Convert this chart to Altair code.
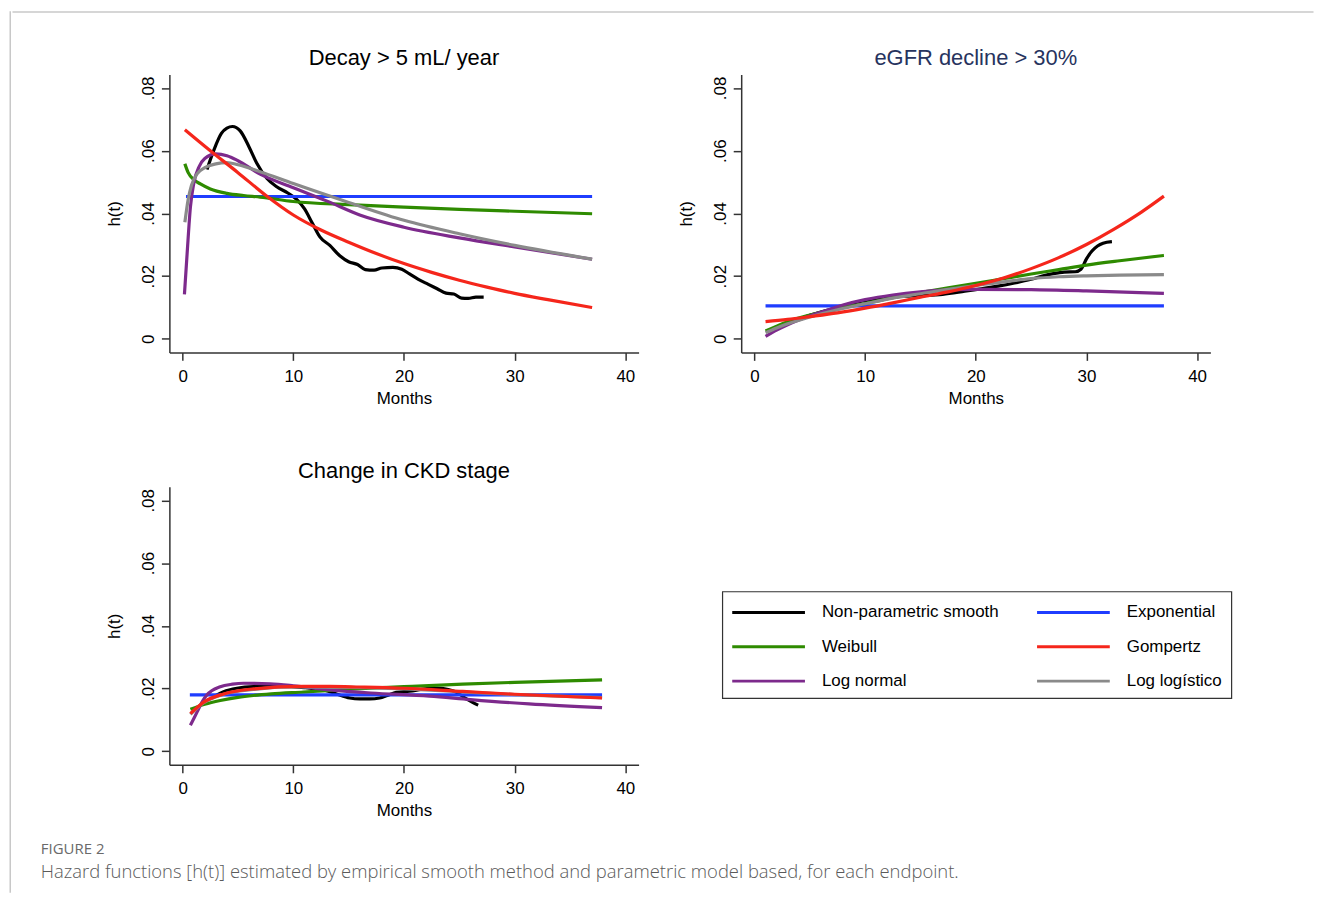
import altair as alt
import pandas as pd

# ---------------- data ----------------
SERIES = ["Non-parametric smooth", "Exponential", "Weibull", "Gompertz", "Log normal", "Log logístico"]
COLORS = ["#000000", "#1f3dff", "#2e8b00", "#f5261b", "#7d2a8c", "#8a8a8a"]
DRAW_ORDER = ["Non-parametric smooth", "Exponential", "Weibull", "Log normal", "Log logístico", "Gompertz"]

PANEL_TITLES = ["Decay > 5 mL/ year", "eGFR decline > 30%", "Change in CKD stage"]
X_TICKS = [0, 10, 20, 30, 40]
Y_TICKS = [0, 0.02, 0.04, 0.06, 0.08]

# Panel 1: Decay > 5 mL/ year
p1_np_t = [2.2, 2.8, 3.5, 4.0, 4.5, 5.2, 6.0, 6.7, 7.6, 8.5, 9.5, 10.3, 11.0, 11.7, 12.4, 13.3, 14.2, 15.0, 15.8, 16.5,
           17.3, 18.0, 19.0, 19.8, 20.5, 21.3, 22.2, 23.0, 23.8, 24.5, 25.2, 25.8, 26.5, 27.2]
p1_np_h = [0.0540, 0.0600, 0.0655, 0.0672, 0.0677, 0.0663, 0.0612, 0.0560, 0.0512, 0.0485, 0.0465, 0.0445, 0.0415,
           0.0370, 0.0325, 0.0298, 0.0265, 0.0246, 0.0237, 0.0221, 0.0219, 0.0226, 0.0228, 0.0222, 0.0207, 0.0190,
           0.0174, 0.0160, 0.0146, 0.0143, 0.0130, 0.0129, 0.0133, 0.0133]
p1_exp_t = [0.3, 37.0]
p1_exp_h = [0.0454, 0.0454]
p1_wei_t = [0.2, 0.5, 1.0, 1.6, 2.5, 4.0, 5.5, 7.0, 10, 15, 20, 25, 30, 37]
p1_wei_h = [0.0558, 0.0530, 0.0508, 0.0494, 0.0478, 0.0464, 0.0457, 0.0452, 0.0438, 0.0428, 0.0420, 0.0413, 0.0407, 0.0399]
p1_gom_t = [0.2, 2.5, 5, 7.5, 10, 12.5, 15, 17.5, 20, 22.5, 25, 27.5, 30, 33, 37]
p1_gom_h = [0.0667, 0.0600, 0.0530, 0.0458, 0.0395, 0.0347, 0.0308, 0.0272, 0.0240, 0.0212, 0.0187, 0.0165, 0.0145,
            0.0125, 0.0100]
p1_ln_t = [0.16, 0.4, 0.7, 1.0, 1.5, 2, 3, 4, 5, 7, 10, 13, 16, 20, 25, 30, 37]
p1_ln_h = [0.0142, 0.0270, 0.0420, 0.0495, 0.0550, 0.0575, 0.0590, 0.0584, 0.0568, 0.0525, 0.0482, 0.0440, 0.0395,
           0.0356, 0.0322, 0.0293, 0.0254]
p1_ll_t = [0.2, 0.5, 0.8, 1.3, 2, 3, 4, 5, 7, 10, 15, 20, 25, 30, 37]
p1_ll_h = [0.0372, 0.0445, 0.0490, 0.0526, 0.0546, 0.0558, 0.0562, 0.0555, 0.0533, 0.0495, 0.0435, 0.0378, 0.0335,
           0.0298, 0.0254]

# Panel 2: eGFR decline > 30%
p2_np_t = [3, 5, 7.5, 9, 11, 13, 15, 17, 19, 20.5, 22, 23.5, 25, 26, 27, 28, 29, 29.5, 30, 30.5, 31, 31.5, 32.3]
p2_np_h = [0.0050, 0.0075, 0.0100, 0.0115, 0.0127, 0.0135, 0.0138, 0.0142, 0.0152, 0.0160, 0.0168, 0.0178, 0.0190,
           0.0200, 0.0208, 0.0213, 0.0214, 0.0222, 0.0255, 0.0280, 0.0296, 0.0305, 0.0310]
p2_exp_t = [1.0, 37.0]
p2_exp_h = [0.0105, 0.0105]
p2_wei_t = [1, 3, 5, 7.5, 10, 12.5, 15, 17.5, 20, 22.5, 25, 27.5, 30, 33, 37]
p2_wei_h = [0.0025, 0.0055, 0.0076, 0.0097, 0.0113, 0.0131, 0.0148, 0.0163, 0.0177, 0.0192, 0.0207, 0.0221, 0.0235,
            0.0249, 0.0266]
p2_gom_t = [1, 3, 5, 7.5, 10, 12.5, 15, 17.5, 20, 22.5, 25, 27.5, 30, 32.5, 35, 37]
p2_gom_h = [0.0055, 0.0062, 0.0071, 0.0083, 0.0098, 0.0115, 0.0133, 0.0150, 0.0170, 0.0194, 0.0224, 0.0259, 0.0301,
            0.0350, 0.0405, 0.0455]
p2_ln_t = [1, 2, 3, 4, 5, 6, 8, 10, 12.5, 15, 17.5, 20, 25, 30, 37]
p2_ln_h = [0.0008, 0.0028, 0.0045, 0.0060, 0.0073, 0.0085, 0.0108, 0.0125, 0.0140, 0.0150, 0.0156, 0.0158, 0.0157,
           0.0153, 0.0145]
p2_ll_t = [1, 2, 3, 5, 7.5, 10, 12.5, 15, 17.5, 20, 22.5, 25, 27.5, 30, 33, 37]
p2_ll_h = [0.0020, 0.0035, 0.0048, 0.0070, 0.0093, 0.0112, 0.0130, 0.0144, 0.0158, 0.0170, 0.0182, 0.0192, 0.0198,
           0.0201, 0.0203, 0.0205]

# Panel 3: Change in CKD stage
p3_np_t = [3.0, 3.7, 4.9, 6.4, 8.8, 11, 12.4, 13.3, 13.9, 15.1, 16, 16.9, 17.8, 18.5, 19.3, 20.5, 21.5, 22.3, 23.2,
           24.0, 24.7, 25.6, 26.2, 26.7]
p3_np_h = [0.0178, 0.0190, 0.0201, 0.0206, 0.0207, 0.0203, 0.0197, 0.0190, 0.0183, 0.0170, 0.0167, 0.0167, 0.0170,
           0.0178, 0.0188, 0.0192, 0.0197, 0.0201, 0.0201, 0.0197, 0.0189, 0.0168, 0.0156, 0.0147]
p3_exp_t = [0.65, 37.9]
p3_exp_h = [0.0180, 0.0180]
p3_wei_t = [0.7, 2, 3.4, 5, 6.4, 8, 10.9, 15, 20, 25.3, 30, 37.9]
p3_wei_h = [0.0134, 0.0150, 0.0162, 0.0172, 0.0178, 0.0183, 0.0189, 0.0198, 0.0206, 0.0214, 0.0220, 0.0228]
p3_gom_t = [0.7, 1.9, 3.7, 6.4, 10.9, 13.3, 16, 20, 25.3, 30, 37.9]
p3_gom_h = [0.0120, 0.0157, 0.0183, 0.0199, 0.0207, 0.0207, 0.0205, 0.0201, 0.0191, 0.0182, 0.0170]
p3_ln_t = [0.7, 1.3, 1.8, 2.2, 3.4, 4.5, 5.5, 7.9, 10, 13.3, 17, 22.3, 26, 31.3, 37.9]
p3_ln_h = [0.0083, 0.0125, 0.0160, 0.0180, 0.0206, 0.0214, 0.0217, 0.0215, 0.0209, 0.0196, 0.0186, 0.0176, 0.0165,
           0.0151, 0.0139]
p3_ll_t = [0.7, 1.9, 3.7, 6.4, 10, 15, 20, 25, 30, 37.9]
p3_ll_h = [0.0118, 0.0155, 0.0182, 0.0197, 0.0205, 0.0204, 0.0199, 0.0190, 0.0181, 0.0171]

CAPTION_LABEL = "FIGURE 2"
CAPTION_TEXT = ("Hazard functions [h(t)] estimated by empirical smooth method and parametric model based, "
                "for each endpoint.")


def panel_frame(pairs):
    rows = []
    for name, (ts, hs) in zip(SERIES, pairs):
        assert len(ts) == len(hs)
        for t, h in zip(ts, hs):
            rows.append({"series": name, "t": t, "h": h})
    return pd.DataFrame(rows)


df1 = panel_frame([(p1_np_t, p1_np_h), (p1_exp_t, p1_exp_h), (p1_wei_t, p1_wei_h),
                   (p1_gom_t, p1_gom_h), (p1_ln_t, p1_ln_h), (p1_ll_t, p1_ll_h)])
df2 = panel_frame([(p2_np_t, p2_np_h), (p2_exp_t, p2_exp_h), (p2_wei_t, p2_wei_h),
                   (p2_gom_t, p2_gom_h), (p2_ln_t, p2_ln_h), (p2_ll_t, p2_ll_h)])
df3 = panel_frame([(p3_np_t, p3_np_h), (p3_exp_t, p3_exp_h), (p3_wei_t, p3_wei_h),
                   (p3_gom_t, p3_gom_h), (p3_ln_t, p3_ln_h), (p3_ll_t, p3_ll_h)])

# ---------------- styling ----------------
FONT = "Liberation Sans"
PW, PH = 471, 279
X_DOMAIN = [-1.2, 41.2]
Y_DOMAIN = [-0.0043, 0.0843]
color_scale = alt.Scale(domain=SERIES, range=COLORS)


def panel_chart(df, title, title_color):
    base = alt.Chart(df)
    x = alt.X("t:Q", scale=alt.Scale(domain=X_DOMAIN, nice=False, zero=False),
              axis=alt.Axis(values=X_TICKS, title="Months", format="d"))
    y = alt.Y("h:Q", scale=alt.Scale(domain=Y_DOMAIN, nice=False, zero=False),
              axis=alt.Axis(values=Y_TICKS, title="h(t)",
                            labelExpr="datum.value == 0 ? '0' : slice(format(datum.value, '.2f'), 1)",
                            labelAngle=270, labelAlign="center", labelBaseline="alphabetic"))
    layers = [
        base.transform_filter(alt.datum.series == s)
        .mark_line(strokeWidth=3.2, interpolate="monotone")
        .encode(x=x, y=y, color=alt.Color("series:N", scale=color_scale, legend=None))
        for s in DRAW_ORDER
    ]
    return alt.layer(*layers).properties(
        width=PW, height=PH,
        title=alt.TitleParams(title, frame="group", anchor="middle", offset=4, fontSize=22,
                              font=FONT, fontWeight="normal", color=title_color),
    )


p1 = panel_chart(df1, PANEL_TITLES[0], "#000000")
p2 = panel_chart(df2, PANEL_TITLES[1], "#27335e")
p3 = panel_chart(df3, PANEL_TITLES[2], "#000000")

# legend panel (built from the series list)
leg_df = pd.DataFrame({"series": SERIES, "idx": list(range(len(SERIES)))})
leg_base = alt.Chart(leg_df).transform_calculate(col="datum.idx % 2", row="floor(datum.idx / 2)")
lx = alt.X("col:Q", scale=alt.Scale(domain=[0, 1], range=[46.5, 352.5]), axis=None)
ly = alt.Y("row:Q", scale=alt.Scale(domain=[0, 2], range=[21, 90]), axis=None)
leg_sym = leg_base.mark_point(shape="stroke", size=5329, strokeWidth=3, filled=False, opacity=1).encode(
    x=lx, y=ly, color=alt.Color("series:N", scale=color_scale, legend=None))
leg_txt = leg_base.mark_text(align="left", baseline="middle", dx=53.5, fontSize=17, font=FONT, color="#000").encode(
    x=lx, y=ly, text="series:N")
legend_panel = alt.layer(leg_sym, leg_txt).properties(
    width=511, height=107, view=alt.ViewBackground(stroke="#333333", strokeWidth=1.2))


def blank(w, h, fill=None):
    c = alt.Chart(pd.DataFrame({"a": [0]})).mark_point(size=0, opacity=0, strokeWidth=0)
    if fill:
        return c.properties(width=w, height=h, view=alt.ViewBackground(fill=fill, stroke="transparent"))
    return c.properties(width=w, height=h)


legend_col = alt.vconcat(blank(1, 1), legend_panel, spacing=103)
top_row = alt.hconcat(p1, p2, spacing=37)
bottom_row = alt.hconcat(p3, legend_col, spacing=82)
main = alt.vconcat(top_row, bottom_row, spacing=52).properties(
    title=alt.TitleParams(CAPTION_LABEL, subtitle=CAPTION_TEXT, orient="bottom", anchor="start", frame="group",
                          dx=-129, offset=23, font="Open Sans", fontSize=15, fontWeight="normal", color="#6a6a6a",
                          subtitleFont="Open Sans", subtitleFontSize=18.5, subtitleFontWeight=300,
                          subtitleColor="#5a5a5a", subtitlePadding=6)
)

main_shift = alt.hconcat(blank(1, 1), main, spacing=28)
right = alt.vconcat(blank(1306, 1.5, "#c8c8c8"), main_shift, spacing=34)
chart = alt.hconcat(blank(1.5, 885, "#c8c8c8"), right, spacing=0).properties(
    padding={"left": 0, "top": 0, "right": 0, "bottom": 2}
).configure_view(stroke="transparent").configure_axis(
    labelFont=FONT, titleFont=FONT, labelFontSize=17, titleFontSize=17, titleFontWeight="normal",
    labelColor="#000", titleColor="#000", domainColor="#333", tickColor="#333", domainWidth=1.5,
    tickWidth=1.5, tickSize=8, grid=False, labelPadding=8,
).configure_axisY(labelPadding=8, titlePadding=16).configure_axisX(titlePadding=6)

chart.save("out.html", embed_options={"renderer": "svg", "actions": False})
